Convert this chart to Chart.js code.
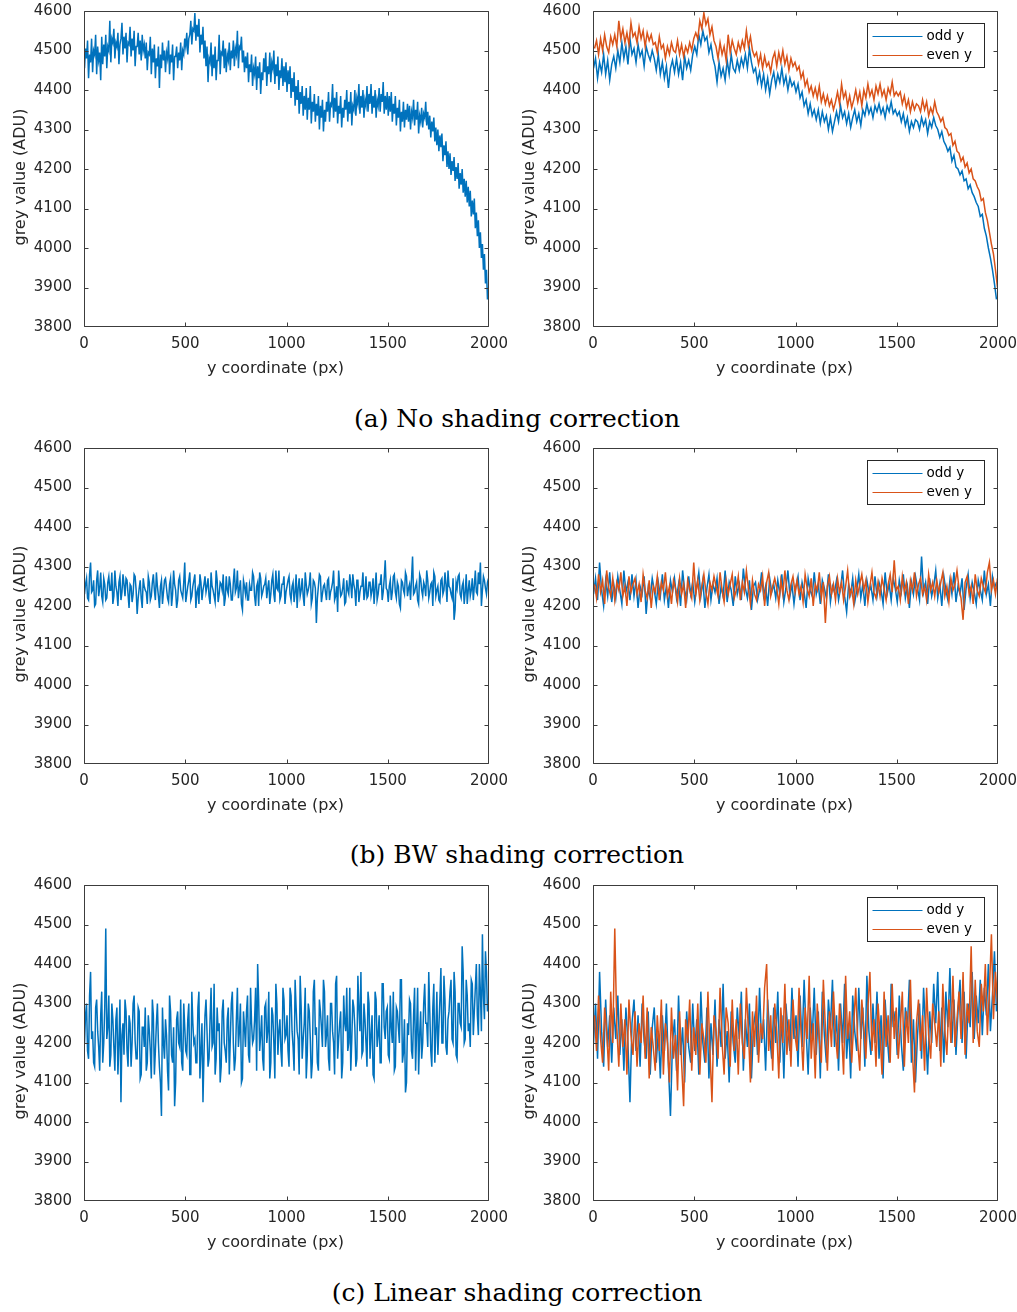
<!DOCTYPE html>
<html><head><meta charset="utf-8">
<script src="https://cdn.jsdelivr.net/npm/chart.js@4.4.1/dist/chart.umd.min.js"></script>
<style>
html,body{margin:0;padding:0;background:#fff;}
body{width:1017px;height:1312px;position:relative;overflow:hidden;}
canvas{position:absolute;}
.cap{position:absolute;left:217px;width:600px;text-align:center;font-family:"DejaVu Serif",serif;font-size:25px;line-height:30px;color:#000;white-space:nowrap;}
</style></head><body>
<canvas id="aL" width="509" height="380" style="left:0;top:0"></canvas>
<canvas id="aR" width="508" height="380" style="left:509px;top:0"></canvas>
<div class="cap" id="capA" style="top:404px"></div>
<canvas id="bL" width="509" height="380" style="left:0;top:437px"></canvas>
<canvas id="bR" width="508" height="380" style="left:509px;top:437px"></canvas>
<div class="cap" id="capB" style="top:840px"></div>
<canvas id="cL" width="509" height="380" style="left:0;top:874px"></canvas>
<canvas id="cR" width="508" height="380" style="left:509px;top:874px"></canvas>
<div class="cap" id="capC" style="top:1278px"></div>
<script>
// ---- tick labels / text ----
const xTicks = [0, 500, 1000, 1500, 2000];
const yTicks = [3800, 3900, 4000, 4100, 4200, 4300, 4400, 4500, 4600];
const xTitle = 'y coordinate (px)';
const yTitle = 'grey value (ADU)';
const seriesLabels = ['odd y', 'even y'];
const captions = ['(a) No shading correction', '(b) BW shading correction', '(c) Linear shading correction'];

// ---- (a) no shading correction: odd / even rows (sampled every 10 px) ----
const aOdd = [
4455,4480,4430,4470,4445,4490,4440,4475,4425,4465,
4485,4455,4500,4470,4520,4480,4510,4465,4530,4490,
4505,4470,4515,4485,4500,4460,4510,4490,4475,4500,
4480,4450,4490,4440,4470,4430,4460,4405,4455,4475,
4445,4480,4440,4470,4425,4485,4455,4475,4450,4490,
4510,4490,4540,4515,4550,4525,4535,4495,4515,4480,
4460,4420,4470,4435,4455,4425,4475,4440,4490,4455,
4445,4475,4450,4480,4460,4490,4455,4505,4470,4445,
4455,4420,4445,4410,4440,4400,4430,4390,4425,4445,
4410,4440,4420,4455,4415,4435,4400,4430,4410,4420,
4395,4415,4380,4395,4360,4375,4340,4365,4335,4350,
4325,4350,4315,4345,4320,4335,4300,4330,4295,4320,
4345,4320,4360,4330,4345,4315,4340,4305,4330,4350,
4320,4340,4310,4350,4335,4365,4340,4355,4330,4360,
4345,4365,4340,4355,4330,4360,4345,4370,4340,4350,
4335,4345,4320,4340,4310,4330,4295,4320,4305,4325,
4320,4300,4330,4310,4325,4290,4320,4305,4330,4310,
4300,4280,4295,4270,4260,4245,4255,4220,4235,4205,
4200,4185,4195,4170,4175,4150,4160,4140,4130,4115,
4105,4080,4085,4050,4030,4000,3975,3945,3910,3870];
const aEven = [
4505,4525,4490,4530,4500,4540,4510,4495,4535,4515,
4540,4510,4575,4530,4555,4520,4545,4515,4570,4535,
4545,4520,4560,4530,4550,4510,4545,4525,4540,4515,
4520,4495,4535,4505,4515,4480,4510,4490,4520,4500,
4495,4525,4490,4515,4485,4510,4495,4520,4500,4530,
4545,4530,4575,4555,4595,4565,4580,4540,4560,4525,
4510,4480,4520,4490,4510,4475,4540,4495,4525,4505,
4490,4520,4500,4525,4505,4550,4510,4535,4500,4485,
4495,4465,4490,4455,4485,4460,4470,4445,4480,4495,
4460,4495,4470,4500,4465,4485,4450,4480,4460,4470,
4450,4460,4430,4445,4410,4425,4395,4410,4385,4405,
4380,4410,4370,4390,4365,4385,4360,4375,4350,4370,
4395,4365,4415,4380,4395,4360,4385,4355,4375,4400,
4370,4395,4360,4400,4380,4415,4385,4400,4375,4410,
4390,4415,4385,4400,4375,4405,4390,4420,4385,4395,
4385,4395,4365,4385,4355,4375,4345,4370,4350,4365,
4360,4345,4375,4350,4370,4335,4355,4340,4370,4345,
4335,4320,4330,4305,4300,4285,4290,4260,4270,4245,
4240,4220,4230,4205,4215,4190,4200,4175,4170,4155,
4145,4120,4125,4090,4070,4040,4010,3985,3945,3900];

// ---- (b) BW shading correction ----
const bOdd = [
4230,4270,4215,4310,4240,4200,4265,4225,4285,4210,
4255,4220,4275,4240,4205,4290,4235,4260,4215,4280,
4225,4265,4195,4250,4230,4275,4180,4245,4220,4270,
4240,4205,4260,4225,4280,4215,4250,4195,4265,4235,
4270,4220,4255,4200,4290,4240,4215,4275,4230,4260,
4210,4250,4285,4225,4265,4195,4245,4280,4215,4255,
4235,4270,4205,4250,4225,4290,4210,4260,4240,4200,
4275,4230,4255,4215,4295,4245,4220,4265,4190,4250,
4260,4215,4240,4285,4225,4250,4200,4270,4235,4255,
4220,4265,4230,4280,4210,4245,4290,4225,4255,4205,
4250,4275,4215,4260,4235,4195,4270,4240,4225,4285,
4230,4255,4205,4265,4245,4220,4280,4210,4250,4235,
4265,4215,4245,4290,4225,4185,4255,4230,4270,4210,
4240,4280,4220,4255,4200,4265,4235,4250,4215,4275,
4225,4260,4240,4205,4285,4230,4255,4215,4270,4245,
4210,4265,4235,4280,4220,4250,4195,4260,4230,4275,
4245,4215,4325,4235,4260,4205,4270,4225,4250,4290,
4220,4255,4200,4275,4240,4215,4265,4230,4285,4210,
4250,4230,4270,4190,4245,4280,4220,4260,4235,4205,
4265,4240,4215,4290,4230,4255,4200,4275,4245,4260];
const bEven = [
4255,4220,4280,4235,4265,4205,4290,4245,4225,4270,
4215,4260,4240,4285,4225,4250,4200,4275,4235,4255,
4270,4230,4255,4210,4280,4240,4220,4265,4195,4250,
4235,4275,4215,4260,4240,4285,4225,4250,4205,4265,
4245,4210,4270,4230,4255,4195,4265,4240,4220,4310,
4230,4265,4215,4250,4280,4235,4205,4260,4240,4275,
4250,4225,4285,4240,4210,4265,4230,4255,4280,4220,
4240,4275,4215,4260,4235,4290,4245,4205,4265,4230,
4215,4255,4240,4275,4200,4260,4285,4225,4250,4270,
4245,4205,4265,4230,4290,4240,4215,4255,4275,4235,
4265,4230,4250,4210,4280,4245,4225,4270,4200,4255,
4240,4285,4220,4260,4157,4250,4275,4230,4255,4215,
4270,4235,4260,4215,4250,4290,4225,4245,4205,4265,
4230,4255,4280,4240,4265,4210,4250,4285,4235,4220,
4260,4225,4270,4245,4215,4255,4280,4235,4316,4240,
4250,4215,4275,4235,4260,4205,4265,4240,4285,4225,
4255,4270,4230,4250,4215,4280,4240,4260,4225,4265,
4235,4260,4285,4225,4250,4210,4270,4240,4255,4290,
4245,4220,4165,4260,4275,4230,4250,4205,4280,4240,
4225,4270,4250,4235,4285,4310,4240,4265,4230,4270];

// ---- (c) linear shading correction ----
const cOdd = [
4200,4300,4160,4380,4230,4140,4310,4190,4270,4150,
4290,4210,4320,4170,4260,4130,4290,4200,4050,4250,
4310,4180,4270,4140,4300,4205,4160,4280,4120,4240,
4290,4150,4230,4110,4270,4180,4300,4140,4015,4200,
4260,4130,4320,4170,4240,4100,4280,4190,4150,4300,
4180,4260,4120,4330,4200,4150,4290,4110,4250,4170,
4310,4140,4260,4190,4350,4160,4230,4100,4280,4200,
4150,4290,4210,4330,4130,4260,4190,4300,4110,4240,
4280,4170,4340,4200,4260,4130,4310,4220,4160,4290,
4200,4330,4150,4270,4110,4300,4230,4180,4340,4210,
4270,4140,4320,4190,4360,4230,4120,4290,4210,4340,
4170,4280,4110,4330,4220,4150,4310,4240,4360,4190,
4270,4130,4300,4200,4350,4160,4250,4110,4320,4230,
4180,4340,4210,4290,4140,4370,4230,4170,4300,4200,
4330,4160,4270,4110,4310,4220,4150,4350,4240,4280,
4170,4320,4200,4130,4290,4240,4360,4150,4260,4100,
4220,4300,4160,4340,4230,4120,4280,4200,4350,4250,
4380,4180,4290,4150,4330,4240,4390,4200,4310,4170,
4280,4360,4200,4330,4160,4300,4240,4380,4210,4320,
4250,4360,4220,4340,4270,4400,4230,4320,4432,4280];
const cEven = [
4270,4180,4320,4210,4150,4290,4230,4130,4330,4200,
4490,4240,4140,4300,4190,4260,4120,4310,4220,4170,
4280,4140,4250,4200,4320,4160,4290,4110,4240,4190,
4130,4270,4180,4310,4120,4250,4200,4100,4290,4160,
4220,4080,4280,4150,4040,4260,4200,4310,4130,4240,
4170,4300,4120,4250,4210,4150,4330,4180,4050,4270,
4230,4160,4340,4200,4120,4290,4250,4140,4310,4180,
4260,4120,4300,4200,4160,4340,4230,4100,4280,4190,
4320,4150,4250,4210,4340,4400,4180,4270,4130,4300,
4230,4110,4290,4200,4350,4170,4260,4140,4310,4220,
4180,4340,4230,4130,4290,4210,4370,4160,4250,4110,
4300,4210,4150,4360,4240,4130,4280,4190,4330,4220,
4160,4300,4230,4120,4370,4210,4280,4150,4250,4340,
4200,4130,4310,4240,4160,4290,4380,4180,4260,4140,
4300,4220,4120,4330,4190,4270,4150,4350,4210,4290,
4160,4240,4330,4140,4280,4200,4360,4175,4075,4250,
4310,4180,4270,4130,4340,4220,4160,4300,4250,4190,
4280,4140,4350,4230,4170,4310,4200,4370,4190,4260,
4330,4210,4380,4170,4300,4250,4445,4200,4360,4230,
4190,4350,4280,4400,4220,4330,4475,4260,4380,4300];

const colOdd = '#0072BD', colEven = '#D95319';
const sampleStep = 10; // each stored value stands for a 10-row block

// row coordinate of the i-th stored sample (odd rows first half of a block, even rows second half)
function points(values, phase) {
  return values.map((v, i) => ({ x: (i + phase) * sampleStep, y: v }));
}
function allRows(odd, even) {
  const a = points(odd, 0.25), b = points(even, 0.75), out = [];
  for (let i = 0; i < a.length; i++) { out.push(a[i]); out.push(b[i]); }
  return out;
}

const axisCol = '#3c3c3c', textCol = '#262626';
const lineW = 1.5;
const frame = {
  id: 'frame',
  afterDraw(chart, args, o) {
    const { ctx, chartArea } = chart;
    const { left, right, top, bottom } = chartArea;
    const sx = chart.scales.x, sy = chart.scales.y;
    ctx.save();
    ctx.strokeStyle = axisCol; ctx.lineWidth = 1;
    const L = Math.round(left) + 0.5, R = Math.round(right) - 0.5, T = Math.round(top) + 0.5, B = Math.round(bottom) - 0.5;
    ctx.beginPath(); ctx.rect(L, T, R - L, B - T); ctx.stroke();
    const tl = 4;
    ctx.beginPath();
    xTicks.forEach(v => {
      let p = Math.round(sx.getPixelForValue(v)) + 0.5; p = Math.max(L, Math.min(R, p));
      ctx.moveTo(p, B); ctx.lineTo(p, B - tl); ctx.moveTo(p, T); ctx.lineTo(p, T + tl);
    });
    yTicks.forEach(v => {
      let p = Math.round(sy.getPixelForValue(v)) + 0.5; p = Math.max(T, Math.min(B, p));
      ctx.moveTo(L, p); ctx.lineTo(L + tl, p); ctx.moveTo(R, p); ctx.lineTo(R - tl, p);
    });
    ctx.stroke();
    // axis titles
    ctx.fillStyle = textCol; ctx.font = '16px "DejaVu Sans"';
    ctx.textAlign = 'center'; ctx.textBaseline = 'alphabetic';
    ctx.fillText(xTitle, (left + right) / 2 - 11, bottom + 45.5);
    ctx.save();
    ctx.translate(left - 59, (top + bottom) / 2 + 8);
    ctx.rotate(-Math.PI / 2);
    ctx.fillText(yTitle, 0, 0);
    ctx.restore();
    // legend
    if (o && o.legend) {
      const bx = Math.round(right) - 131 + 0.5, by = Math.round(top) + 12 + 0.5, bw = 117, bh = 44;
      ctx.fillStyle = '#fff'; ctx.fillRect(bx, by, bw, bh);
      ctx.strokeStyle = '#262626'; ctx.strokeRect(bx, by, bw, bh);
      ctx.font = '13.5px "DejaVu Sans"'; ctx.textAlign = 'left'; ctx.textBaseline = 'middle';
      chart.data.datasets.forEach((ds, i) => {
        const yy = Math.round(by + 12 + i * 19) + 0.5;
        ctx.strokeStyle = ds.borderColor; ctx.lineWidth = 1;
        ctx.beginPath(); ctx.moveTo(bx + 5, yy); ctx.lineTo(bx + 55, yy); ctx.stroke();
        ctx.fillStyle = '#000'; ctx.fillText(ds.label, bx + 59, yy);
      });
    }
    ctx.restore();
  }
};

function noPad(s) { s.paddingLeft = 0; s.paddingRight = 0; s.paddingTop = 0; s.paddingBottom = 0; }

function makeChart(id, datasets, legend, width) {
  return new Chart(document.getElementById(id), {
    type: 'line',
    data: { datasets },
    options: {
      responsive: false, animation: false, maintainAspectRatio: false, devicePixelRatio: 1,
      layout: { autoPadding: false, padding: { left: 0, top: 11, right: width - 489, bottom: 0 } },
      elements: { point: { radius: 0 }, line: { borderWidth: lineW, tension: 0 } },
      plugins: { legend: { display: false }, tooltip: { enabled: false }, frame: { legend } },
      scales: {
        x: {
          type: 'linear', min: 0, max: 2000,
          afterBuildTicks: s => { s.ticks = xTicks.map(v => ({ value: v })); },
          afterFit: s => { s.height = 53; noPad(s); },
          grid: { display: false, drawTicks: false }, border: { display: false },
          ticks: { padding: 8, autoSkip: false, maxRotation: 0, color: textCol, font: { family: 'DejaVu Sans', size: 15 }, callback: v => String(v) }
        },
        y: {
          type: 'linear', min: 3800, max: 4600,
          afterBuildTicks: s => { s.ticks = yTicks.map(v => ({ value: v })); },
          afterFit: s => { s.width = 84; noPad(s); },
          grid: { display: false, drawTicks: false }, border: { display: false },
          ticks: { padding: 12, autoSkip: false, color: textCol, font: { family: 'DejaVu Sans', size: 15 }, callback: v => String(v) }
        }
      }
    },
    plugins: [frame]
  });
}

function leftSet(odd, even) {
  return [{ label: 'all rows', data: allRows(odd, even), borderColor: colOdd, borderWidth: lineW, pointRadius: 0, fill: false }];
}
function rightSet(odd, even) {
  return [
    { label: seriesLabels[0], data: points(odd, 0.25), borderColor: colOdd, borderWidth: lineW, pointRadius: 0, fill: false, order: 2 },
    { label: seriesLabels[1], data: points(even, 0.75), borderColor: colEven, borderWidth: lineW, pointRadius: 0, fill: false, order: 1 }
  ];
}

makeChart('aL', leftSet(aOdd, aEven), false, 509);
makeChart('aR', rightSet(aOdd, aEven), true, 508);
makeChart('bL', leftSet(bOdd, bEven), false, 509);
makeChart('bR', rightSet(bOdd, bEven), true, 508);
makeChart('cL', leftSet(cOdd, cEven), false, 509);
makeChart('cR', rightSet(cOdd, cEven), true, 508);
document.getElementById('capA').textContent = captions[0];
document.getElementById('capB').textContent = captions[1];
document.getElementById('capC').textContent = captions[2];
</script>
</body></html>
